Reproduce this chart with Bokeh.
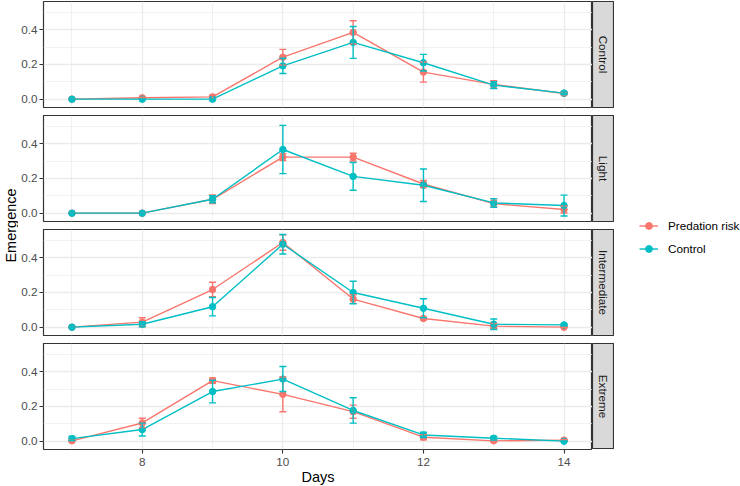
import math
from bokeh.plotting import figure
from bokeh.models import (Range1d, FixedTicker, PrintfTickFormatter, ColumnDataSource,
                          Label, Legend, LegendItem)
from bokeh.layouts import row, column
from bokeh.embed import file_html
from bokeh.resources import INLINE

# ---------------- data ----------------
days = [7, 8, 9, 10, 11, 12, 13, 14]
treatments = ["Control", "Light", "Intermediate", "Extreme"]
series_names = ["Predation risk", "Control"]

control_pred_mean = [0.0, 0.008, 0.013, 0.242, 0.385, 0.156, 0.085, 0.033]
control_pred_err = [0.0, 0.003, 0.010, 0.045, 0.067, 0.058, 0.022, 0.008]
control_ctrl_mean = [0.0, 0.0, 0.0, 0.192, 0.327, 0.210, 0.081, 0.035]
control_ctrl_err = [0.0, 0.0, 0.0, 0.044, 0.092, 0.048, 0.020, 0.007]

light_pred_mean = [0.0, 0.0, 0.080, 0.323, 0.323, 0.168, 0.055, 0.021]
light_pred_err = [0.0, 0.0, 0.025, 0.020, 0.022, 0.020, 0.020, 0.020]
light_ctrl_mean = [0.0, 0.0, 0.080, 0.367, 0.212, 0.161, 0.059, 0.044]
light_ctrl_err = [0.0, 0.0, 0.020, 0.139, 0.080, 0.094, 0.025, 0.060]

inter_pred_mean = [0.0, 0.029, 0.217, 0.488, 0.162, 0.050, 0.006, 0.0]
inter_pred_err = [0.0, 0.025, 0.042, 0.045, 0.025, 0.007, 0.015, 0.0]
inter_ctrl_mean = [0.0, 0.017, 0.118, 0.478, 0.200, 0.109, 0.017, 0.013]
inter_ctrl_err = [0.0, 0.015, 0.053, 0.056, 0.065, 0.055, 0.030, 0.005]

extreme_pred_mean = [0.002, 0.105, 0.349, 0.270, 0.170, 0.023, 0.002, 0.006]
extreme_pred_err = [0.004, 0.027, 0.015, 0.100, 0.038, 0.015, 0.005, 0.004]
extreme_ctrl_mean = [0.015, 0.067, 0.286, 0.358, 0.177, 0.036, 0.017, 0.0]
extreme_ctrl_err = [0.012, 0.037, 0.065, 0.072, 0.073, 0.015, 0.010, 0.0]

x_major = [8, 10, 12, 14]
x_minor = [7, 9, 11, 13]
y_major = [0.0, 0.2, 0.4]
y_minor = [0.1, 0.3, 0.5]

panel_data = [
    (control_pred_mean, control_pred_err, control_ctrl_mean, control_ctrl_err),
    (light_pred_mean, light_pred_err, light_ctrl_mean, light_ctrl_err),
    (inter_pred_mean, inter_pred_err, inter_ctrl_mean, inter_ctrl_err),
    (extreme_pred_mean, extreme_pred_err, extreme_ctrl_mean, extreme_ctrl_err),
]

# ---------------- style ----------------
RED = "#F8766D"
CYAN = "#00BFC4"
FONT = "Liberation Sans"
GRID = "#EBEBEB"
DARK = "#333333"
TICK_TXT = "#4D4D4D"

TITLE_W = 18
AXIS_W = 22
FRAME_W = 549
FRAME_H = 106
TOP = 1
GAP = 8
STRIP_W = 22
LEG_W = 126
TOTAL_H = 482

CAP = 0.1  # errorbar cap width in days


def zero_borders(p):
    p.min_border_left = 0
    p.min_border_right = 0
    p.min_border_top = 0
    p.min_border_bottom = 0


def make_panel(pm, pe, cm, ce, first, bottom):
    p = figure(frame_width=FRAME_W, frame_height=FRAME_H,
               x_range=Range1d(6.595, 14.405), y_range=Range1d(-0.048, 0.563),
               output_backend="svg", toolbar_location=None)
    zero_borders(p)
    p.min_border_left = AXIS_W
    if first:
        p.min_border_top = TOP
    if not bottom:
        p.min_border_bottom = GAP
    p.background_fill_color = "white"
    p.border_fill_color = "white"
    p.outline_line_color = DARK
    p.outline_line_width = 1.2

    p.xaxis.ticker = FixedTicker(ticks=x_major, minor_ticks=x_minor)
    p.yaxis.ticker = FixedTicker(ticks=y_major, minor_ticks=y_minor)
    p.yaxis.formatter = PrintfTickFormatter(format="%.1f")
    for ax in (p.xaxis[0], p.yaxis[0]):
        ax.axis_line_color = None
        ax.major_tick_line_color = DARK
        ax.major_tick_line_width = 1.1
        ax.major_tick_in = 0
        ax.major_tick_out = 4
        ax.minor_tick_line_color = None
        ax.major_label_standoff = 2
        ax.major_label_text_font = FONT
        ax.major_label_text_font_size = "11.7px"
        ax.major_label_text_color = TICK_TXT
    if bottom:
        p.xaxis.major_label_standoff = 4
        p.xaxis.axis_label = "Days"
        p.xaxis.axis_label_text_font = FONT
        p.xaxis.axis_label_text_font_size = "14.5px"
        p.xaxis.axis_label_text_font_style = "normal"
        p.xaxis.axis_label_text_color = "black"
        p.xaxis.axis_label_standoff = 0
    else:
        p.xaxis.visible = False

    for g in (p.xgrid[0], p.ygrid[0]):
        g.grid_line_color = GRID
        g.grid_line_width = 1.3
        g.minor_grid_line_color = GRID
        g.minor_grid_line_width = 0.7

    sources = []
    for mean, err, color in ((pm, pe, RED), (cm, ce, CYAN)):
        src = ColumnDataSource(dict(
            day=days, mean=mean,
            lower=[m - e for m, e in zip(mean, err)],
            upper=[m + e for m, e in zip(mean, err)],
            left=[d - CAP / 2 for d in days],
            right=[d + CAP / 2 for d in days],
        ))
        sources.append((src, color))
    for src, color in sources:
        p.line("day", "mean", source=src, line_color=color, line_width=1.4)
    for src, color in sources:
        p.scatter("day", "mean", source=src, size=6.5, fill_color=color, line_color=color)
    for src, color in sources:
        p.segment("day", "lower", "day", "upper", source=src, line_color=color, line_width=1.4)
        p.segment("left", "upper", "right", "upper", source=src, line_color=color, line_width=1.4)
        p.segment("left", "lower", "right", "lower", source=src, line_color=color, line_width=1.4)
    return p


def make_strip(name, first, bottom):
    s = figure(frame_width=STRIP_W, frame_height=FRAME_H,
               x_range=Range1d(0, 1), y_range=Range1d(0, 1),
               x_axis_location=None, y_axis_location=None,
               output_backend="svg", toolbar_location=None)
    zero_borders(s)
    if first:
        s.min_border_top = TOP
    if not bottom:
        s.min_border_bottom = GAP
    s.grid.visible = False
    s.background_fill_color = "#D9D9D9"
    s.border_fill_color = "white"
    s.outline_line_color = DARK
    s.outline_line_width = 1.2
    s.add_layout(Label(x=0.5, y=0.5, text=name, angle=-math.pi / 2,
                       text_align="center", text_baseline="middle",
                       text_font=FONT, text_font_size="11.7px", text_color="#1A1A1A"))
    return s


rows = []
n = len(treatments)
for i, (name, (pm, pe, cm, ce)) in enumerate(zip(treatments, panel_data)):
    first = i == 0
    bottom = i == n - 1
    rows.append(row(make_panel(pm, pe, cm, ce, first, bottom), make_strip(name, first, bottom)))
panels = column(*rows)

# y-axis title
panel_center_from_top = TOP + (n * FRAME_H + (n - 1) * GAP) / 2.0
yt = figure(frame_width=TITLE_W, frame_height=TOTAL_H,
            x_range=Range1d(0, 1), y_range=Range1d(0, 1),
            x_axis_location=None, y_axis_location=None,
            output_backend="svg", toolbar_location=None)
zero_borders(yt)
yt.grid.visible = False
yt.outline_line_color = None
yt.add_layout(Label(x=TITLE_W / 2.0 + 1, y=TOTAL_H - panel_center_from_top,
                    x_units="screen", y_units="screen",
                    text="Emergence", angle=math.pi / 2,
                    text_align="center", text_baseline="middle",
                    text_font=FONT, text_font_size="14.5px", text_color="black"))

# legend figure (renderers hold the series but lie outside this figure's ranges)
lf = figure(frame_width=LEG_W, frame_height=TOTAL_H,
            x_range=Range1d(0, 1), y_range=Range1d(0, 1),
            x_axis_location=None, y_axis_location=None,
            output_backend="svg", toolbar_location=None)
zero_borders(lf)
lf.grid.visible = False
lf.outline_line_color = None
items = []
for label, color, mean in zip(series_names, (RED, CYAN), (control_pred_mean, control_ctrl_mean)):
    src = ColumnDataSource(dict(x=days, y=mean))
    lr = lf.line("x", "y", source=src, line_color=color, line_width=1.4)
    sr = lf.scatter("x", "y", source=src, size=6.5, fill_color=color, line_color=color)
    items.append(LegendItem(label=label, renderers=[lr, sr]))

KEY_H = 17
KEY_SP = 6
first_center = 225
leg_top = first_center - KEY_H / 2.0
leg_bottom = leg_top + 2 * KEY_H + KEY_SP
legend = Legend(items=items, location=(25, TOTAL_H - leg_bottom), orientation="vertical",
                glyph_width=19, glyph_height=KEY_H, label_height=KEY_H, label_standoff=10,
                spacing=KEY_SP, padding=0, margin=0, border_line_color=None,
                background_fill_alpha=0, label_text_font=FONT,
                label_text_font_size="11.7px", label_text_color="black")
lf.add_layout(legend)

layout = row(yt, panels, lf)

open("out.html", "w").write(file_html(layout, INLINE))
